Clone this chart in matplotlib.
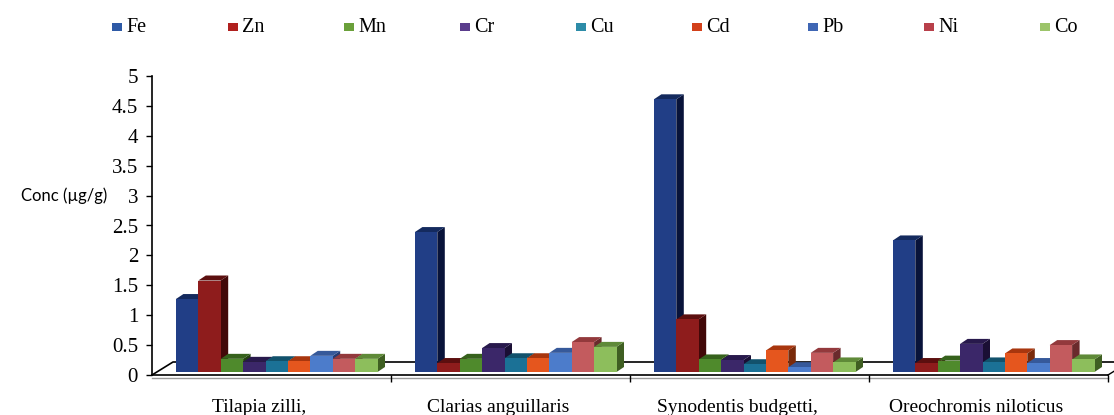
import numpy as np
import matplotlib
matplotlib.use("Agg")
import matplotlib.pyplot as plt
from matplotlib.patches import Polygon, Rectangle

# Heavy-metal concentration (µg/g) in four fish species
species = ["Tilapia zilli,", "Clarias anguillaris", "Synodentis budgetti,", "Oreochromis niloticus"]
metals = ["Fe", "Zn", "Mn", "Cr", "Cu", "Cd", "Pb", "Ni", "Co"]

fe = [1.22, 2.34, 4.56, 2.20]
zn = [1.53, 0.15, 0.88, 0.15]
mn = [0.22, 0.22, 0.21, 0.19]
cr = [0.17, 0.40, 0.20, 0.47]
cu = [0.18, 0.23, 0.13, 0.16]
cd = [0.18, 0.23, 0.36, 0.31]
pb = [0.27, 0.32, 0.08, 0.15]
ni = [0.22, 0.50, 0.32, 0.45]
co = [0.22, 0.42, 0.16, 0.21]
series = [fe, zn, mn, cr, cu, cd, pb, ni, co]

y_ticks = [0, 0.5, 1, 1.5, 2, 2.5, 3, 3.5, 4, 4.5, 5]

# face colours: front, side, top, legend swatch
front_c = ["#213E86", "#8E1C1C", "#4F8A2C", "#3B2769", "#1B7196", "#E5561E", "#4C7CCB", "#C35B5E", "#8DBE5C"]
side_c = ["#08133A", "#420808", "#24410F", "#1A0F34", "#0B3548", "#7A2A0A", "#243C74", "#6A2A2C", "#3F5F22"]
top_c = ["#142A5E", "#5C0F0F", "#36621C", "#28194C", "#12526C", "#A8360E", "#36599A", "#93393C", "#5F8A38"]
legend_c = ["#2E5AA6", "#B0201E", "#6AA03A", "#5A3C8C", "#2D8CA8", "#D2401A", "#3F66B4", "#B8404A", "#9CC46A"]

W, H = 1114, 415
fig = plt.figure(figsize=(W / 100, H / 100), dpi=100)
fig.patch.set_facecolor("white")

# axes box: front-left corner of the 3-D floor at (152, 375) px
ax_left, ax_bottom, ax_w, ax_h = 152, 40, 956, 299
ax = fig.add_axes([ax_left / W, ax_bottom / H, ax_w / W, ax_h / H])
ax.set_xlim(0, 4)
ax.set_ylim(0, 5)
ax.set_facecolor("none")

px_x = 4 / ax_w
px_y = 5 / ax_h

# floor depth (back edge offset) and column depth
floor_dx, floor_dy = 21 * px_x, 13 * px_y
col_dx, col_dy = 7.5 * px_x, 5 * px_y
base = 3 * px_y
bar_w = 22.4 * px_x
group_start = 0.10

# floor: back edge and the two side edges
ax.plot([0, floor_dx, 4 + floor_dx], [0, floor_dy, floor_dy], color="black", lw=1.2,
        clip_on=False, zorder=1)
ax.plot([4, 4 + floor_dx], [0, floor_dy], color="black", lw=1.0, clip_on=False, zorder=1)
# soft shadow line under the front edge
ax.plot([0, 4], [-2.5 * px_y, -2.5 * px_y], color="#9a9a9a", lw=1.0, clip_on=False, zorder=1)

for i in range(len(species)):
    for k, vals in enumerate(series):
        v = vals[i]
        x0 = group_start + i + k * bar_w
        z = 3 + k * 0.1
        top = base + v
        side = Polygon([(x0 + bar_w, base), (x0 + bar_w + col_dx, base + col_dy),
                        (x0 + bar_w + col_dx, top + col_dy), (x0 + bar_w, top)],
                       closed=True, facecolor=side_c[k], edgecolor="none", zorder=z, clip_on=False)
        lid = Polygon([(x0, top), (x0 + col_dx, top + col_dy),
                       (x0 + bar_w + col_dx, top + col_dy), (x0 + bar_w, top)],
                      closed=True, facecolor=top_c[k], edgecolor="none", zorder=z, clip_on=False)
        ax.add_patch(side)
        ax.add_patch(lid)
        ax.bar(x0, v, width=bar_w, bottom=base, align="edge", color=front_c[k],
               edgecolor="none", zorder=z + 0.05)

# axes styling
for s in ["top", "right"]:
    ax.spines[s].set_visible(False)
ax.spines["left"].set_linewidth(1.2)
ax.spines["bottom"].set_linewidth(1.2)
ax.spines["bottom"].set_zorder(10)

serif = "Liberation Serif"
ax.set_yticks(y_ticks)
ax.set_yticklabels([f"{t:g}" for t in y_ticks], fontsize=15, family=serif)
ax.tick_params(axis="y", direction="out", length=4, width=1, pad=6)

ax.set_xticks([1, 2, 3, 4])
ax.set_xticklabels([])
ax.tick_params(axis="x", which="major", direction="out", length=5, width=1)
ax.set_xticks([i + 0.45 for i in range(len(species))], minor=True)
ax.set_xticklabels(species, minor=True, fontsize=14, family=serif)
ax.tick_params(axis="x", which="minor", length=0, pad=17)

fig.text(21 / W, 1 - 196 / H, "Conc (µg/g)", fontsize=12, family="Lato",
         ha="left", va="center")

# legend row along the top, evenly spaced entries
leg_x0, leg_step, leg_y = 112, 116, 27
for k, name in enumerate(metals):
    lx = leg_x0 + k * leg_step
    fig.patches.append(Rectangle((lx / W, 1 - (leg_y + 4) / H), 10 / W, 8 / H,
                                 transform=fig.transFigure, facecolor=legend_c[k],
                                 edgecolor="none"))
    fig.text((lx + 14) / W, 1 - leg_y / H, name, fontsize=14.5, family=serif,
             ha="left", va="center")

fig.savefig("out.png", dpi=100, facecolor="white")
